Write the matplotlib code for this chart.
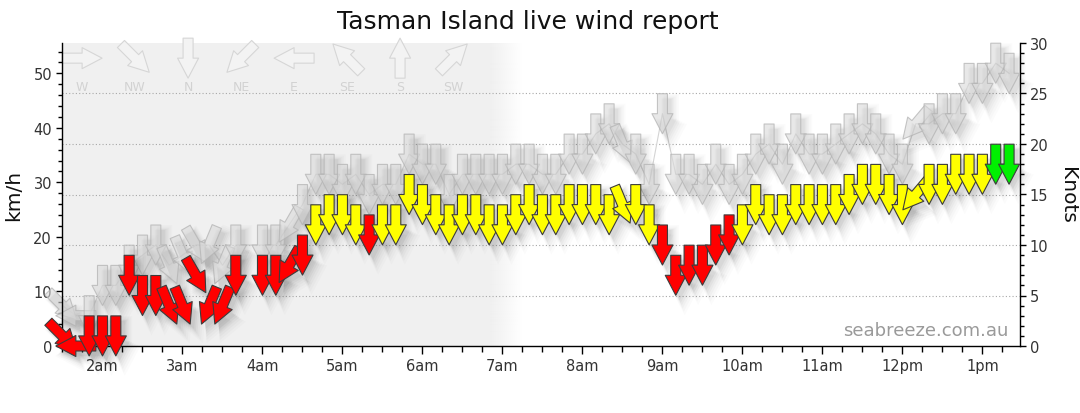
import numpy as np
import matplotlib
matplotlib.use("Agg")
import matplotlib.pyplot as plt
import matplotlib.transforms as mtransforms
from matplotlib.collections import PolyCollection

plt.rcParams['font.family'] = ['DejaVu Sans']

# ---------------- data ----------------
times = ["01:30", "01:40", "01:50", "02:00", "02:10", "02:20", "02:30", "02:40", "02:50",
         "03:00", "03:10", "03:20", "03:30", "03:40",
         "04:00", "04:10", "04:20", "04:30", "04:40", "04:50",
         "05:00", "05:10", "05:20", "05:30", "05:40", "05:50",
         "06:00", "06:10", "06:20", "06:30", "06:40", "06:50",
         "07:00", "07:10", "07:20", "07:30", "07:40", "07:50",
         "08:00", "08:10", "08:20", "08:30", "08:40", "08:50",
         "09:00", "09:10", "09:20", "09:30", "09:40", "09:50",
         "10:00", "10:10", "10:20", "10:30", "10:40", "10:50",
         "11:00", "11:10", "11:20", "11:30", "11:40", "11:50",
         "12:00", "12:10", "12:20", "12:30", "12:40", "12:50",
         "13:00", "13:10", "13:20"]

speed_kn = [1, 0, 1, 1, 1, 7, 5, 5, 4,
            4, 7, 4, 4, 7,
            7, 7, 8, 9, 12, 13,
            13, 12, 11, 12, 12, 15,
            14, 13, 12, 13, 13, 12,
            12, 13, 14, 13, 13, 14,
            14, 14, 13, 14, 14, 12,
            10, 7, 8, 8, 10, 11,
            12, 14, 13, 13, 14, 14,
            14, 14, 15, 16, 16, 15,
            14, 15, 16, 16, 17, 17,
            17, 18, 18]

gust_kn = [4, 3, 3, 6, 6, 8, 9, 10, 8,
           9, 10, 10, 8, 10,
           10, 10, 12, 14, 17, 17,
           16, 17, 15, 16, 16, 19,
           18, 18, 15, 17, 17, 17,
           17, 18, 18, 17, 17, 19,
           19, 21, 22, 20, 19, 16,
           23, 17, 17, 16, 18, 16,
           17, 19, 20, 18, 21, 19,
           19, 20, 21, 22, 21, 19,
           18, 22, 22, 23, 23, 26,
           26, 28, 27]

direction_deg = [315, 90, 0, 0, 0, 0, 0, 0, 337.5,
                 337.5, 330, 22.5, 22.5, 0,
                 0, 0, 30, 0, 0, 0,
                 0, 0, 0, 0, 0, 0,
                 0, 0, 0, 0, 0, 0,
                 0, 0, 0, 0, 0, 0,
                 0, 0, 0, 337.5, 0, 0,
                 0, 0, 0, 0, 0, 0,
                 0, 0, 0, 0, 0, 0,
                 0, 0, 0, 0, 0, 0,
                 0, 40, 0, 0, 0, 0,
                 0, 0, 0]

compass_labels = ["W", "NW", "N", "NE", "E", "SE", "S", "SW"]
compass_deg = [270, 315, 0, 45, 90, 135, 180, 225]

hour_ticks = [2, 3, 4, 5, 6, 7, 8, 9, 10, 11, 12, 13]
hour_labels = ["2am", "3am", "4am", "5am", "6am", "7am", "8am", "9am",
               "10am", "11am", "12pm", "1pm"]

KN = 1.852  # km/h per knot

x = np.array([int(t[:2]) + int(t[3:]) / 60 for t in times])
spd = np.array(speed_kn, float) * KN
gst = np.array(gust_kn, float) * KN

# ---------------- figure ----------------
W, H = 1080, 414
fig = plt.figure(figsize=(W / 100, H / 100), dpi=100)
L, R, T, B = 61.7, 1020.0, 44.0, 347.0
ax = fig.add_axes([L / W, 1 - B / H, (R - L) / W, (B - T) / H])

X0, X1 = 1.49, 13.47
Y1 = 30 * KN

# night shading
ax.axvspan(X0, 6.85, color='#f0f0f0', lw=0, zorder=0)
grad = np.zeros((1, 64, 4))
grad[..., :3] = 240 / 255
grad[0, :, 3] = np.linspace(1, 0, 64)
ax.imshow(grad, extent=[6.85, 7.25, 0, Y1], aspect='auto',
          interpolation='bilinear', zorder=0)

ax.set_xlim(X0, X1)
ax.set_ylim(0, Y1)

# dotted grid at 5-knot steps
for k in (5, 10, 15, 20, 25):
    ax.axhline(k * KN, color='#a8a8a8', lw=0.8, ls=(0, (1, 2)), zorder=1)

# ---------------- arrows ----------------
BASE = np.array([(-5, 20), (5, 20), (5, 0), (10.5, 0), (0, -20),
                 (-10.5, 0), (-5, 0)], float)
px = mtransforms.Affine2D().scale(fig.dpi / 100)


def arrow(deg, scale=1.0, dx=0.0, dy=0.0):
    t = np.deg2rad(-deg)
    c, s = np.cos(t), np.sin(t)
    rot = np.array([[c, -s], [s, c]])
    return (BASE * scale) @ rot.T + np.array([dx, dy])


def add_arrows(xs, ys, degs, fc, ec, lw, z, trf=None, scale=1.0, dx=0.0, dy=0.0):
    verts = [arrow(d, scale, dx, dy) for d in degs]
    pc = PolyCollection(verts, offsets=np.column_stack([xs, ys]),
                        offset_transform=trf if trf is not None else ax.transData,
                        transform=px, facecolors=fc, edgecolors=ec,
                        linewidths=lw, zorder=z)
    ax.add_collection(pc, autolim=False)
    pc.set_clip_on(False)
    return pc


shadow_layers = [(1.0, 4, -5, 0.03), (1.08, 5, -6, 0.025), (1.16, 6, -7, 0.022),
                 (1.26, 7, -8, 0.02), (1.38, 8, -9, 0.017), (1.5, 9, -10, 0.014)]

# compass legend
leg_trf = mtransforms.blended_transform_factory(ax.transData, ax.transAxes)
lx = 1.745 + 0.6625 * np.arange(len(compass_labels))
add_arrows(lx, np.full(len(lx), 0.950), compass_deg, '#f3f3f3', '#d6d6d6', 0.8,
           1.5, trf=leg_trf)
for xi, lab in zip(lx, compass_labels):
    ax.text(xi, 0.858, lab, transform=leg_trf, ha='center', va='center',
            fontsize=9, color='#d2d2d2', zorder=1.5)

# gusts
ax.plot(x, gst, color='#d4d4d4', lw=0.8, zorder=2)
for sc, ddx, ddy, a in shadow_layers:
    add_arrows(x, gst, direction_deg, (0, 0, 0, a), 'none', 0, 2.2,
               scale=sc, dx=ddx, dy=ddy)
add_arrows(x, gst, direction_deg, (0.85, 0.85, 0.85, 0.6),
           (0.70, 0.70, 0.70, 0.75), 0.8, 2.5)


# speeds
def speed_color(k):
    if k <= 11:
        return '#ff0000'
    if k <= 17:
        return '#ffff00'
    return '#00f000'


colors = [speed_color(k) for k in speed_kn]
for sc, ddx, ddy, a in shadow_layers:
    add_arrows(x, spd, direction_deg, (0, 0, 0, a * 1.2), 'none', 0, 3.0,
               scale=sc, dx=ddx, dy=ddy)
add_arrows(x, spd, direction_deg, colors, '#3c3c3c', 0.8, 3.5)

# ---------------- axes ----------------
ax.set_xticks(hour_ticks)
ax.set_xticklabels(hour_labels)
ax.set_xticks(np.arange(1.5, 13.5, 0.25), minor=True)
ax.set_yticks(np.arange(0, 51, 10))
ax.set_yticks(np.arange(0, 56, 2), minor=True)
ax.tick_params(axis='x', which='major', length=5.5, width=1, pad=3,
               labelsize=10.5, labelcolor='#333333')
ax.tick_params(axis='x', which='minor', length=4, width=1)
ax.tick_params(axis='y', which='major', length=4, width=1, pad=3,
               labelsize=10.5, labelcolor='#333333')
ax.tick_params(axis='y', which='minor', length=3, width=1)
ax.spines['top'].set_visible(False)
ax.spines['right'].set_visible(False)
for s in ('left', 'bottom'):
    ax.spines[s].set_color('black')
    ax.spines[s].set_linewidth(1)

sec = ax.secondary_yaxis('right', functions=(lambda v: v / KN, lambda v: v * KN))
sec.set_ticks(np.arange(0, 31, 5))
sec.set_ticks(np.arange(0, 31, 1), minor=True)
sec.tick_params(which='major', length=4, width=1, pad=3, labelsize=10.5,
                labelcolor='#333333')
sec.tick_params(which='minor', length=3, width=1)
sec.spines['right'].set_color('black')
sec.spines['right'].set_linewidth(1)

# ---------------- texts ----------------
fig.text(528 / W, 1 - 22 / H, 'Tasman Island live wind report', ha='center',
         va='center', fontsize=18, color='#111111')
fig.text(14 / W, 1 - 195 / H, 'km/h', rotation=90, ha='center', va='center',
         fontsize=14.5, color='#111111')
fig.text(1067 / W, 1 - 195 / H, 'Knots', rotation=270, ha='center', va='center',
         fontsize=14.5, color='#111111')
fig.text(926 / W, 1 - 331 / H, 'seabreeze.com.au', ha='center', va='center',
         fontsize=13, color='#9a9a9a')

fig.savefig('out.png', dpi=100)
